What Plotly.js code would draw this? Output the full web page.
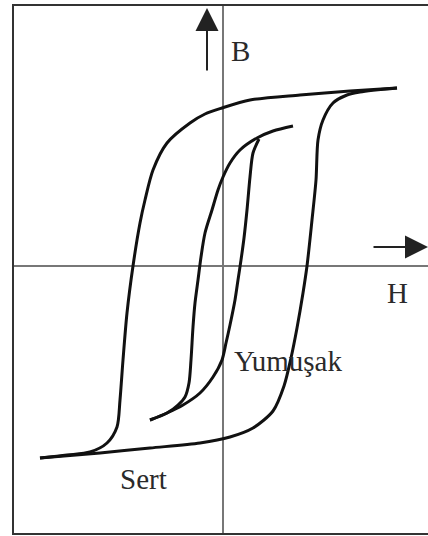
<!DOCTYPE html>
<html>
<head>
<meta charset="utf-8">
<script src="https://cdn.plot.ly/plotly-3.0.1.min.js"></script>
<style>html,body{margin:0;padding:0;background:#fff;}#chart{width:428px;height:536px;}</style>
</head>
<body>
<div id="chart"></div>
<script>
// Hard (Sert) loop - descending branch (H, B)
const hardDownH = [174, 127, 77, 27, -1, -18, -33, -56, -70, -78, -83, -90, -96, -100, -103, -106, -116, -133, -156, -183];
const hardDownB = [178, 175, 171, 166, 158, 152, 143, 123, 96, 66, 43, 0, -47, -94, -134, -161, -177, -186, -189, -192];
// Hard (Sert) loop - ascending branch
const hardUpH = [-183, -123, -73, -23, 7, 30, 50, 61, 68, 74, 80, 84, 89, 93, 95, 100, 110, 124, 137, 174];
const hardUpB = [-192, -187, -182, -177, -171, -162, -145, -120, -92, -62, -27, 0, 46, 86, 126, 146, 163, 171, 174, 178];
// Soft (Yumuşak) loop - descending branch
const softDownH = [70, 50, 34, 17, 7, 0, -5, -11, -18, -22, -25, -28, -30, -32, -34, -38, -45, -56, -73];
const softDownB = [140, 135, 128, 116, 103, 89, 76, 56, 33, 9, -14, -37, -61, -94, -117, -131, -139, -147, -154];
// Soft (Yumuşak) loop - ascending branch
const softUpH = [-73, -56, -40, -23, -10, -1, 3, 7, 12, 15, 18, 21, 24, 27, 30, 36];
const softUpB = [-154, -147, -139, -127, -111, -94, -77, -59, -34, -14, 6, 28, 56, 89, 113, 127];

const labels = {B: "B", H: "H", soft: "Yumuşak", hard: "Sert"};

const lineStyle = {color: "#111", width: 3, shape: "spline", smoothing: 0.8};
const mk = (x, y) => ({x, y, type: "scatter", mode: "lines", line: lineStyle, hoverinfo: "skip", showlegend: false});
const data = [mk(hardDownH, hardDownB), mk(hardUpH, hardUpB), mk(softDownH, softDownB), mk(softUpH, softUpB)];

const font = {family: "Liberation Serif, Times New Roman, serif", size: 29, color: "#2a2a2a"};
const layout = {
  width: 428, height: 536,
  margin: {l: 14, r: 0, t: 6, b: 3, pad: 0},
  paper_bgcolor: "#fff", plot_bgcolor: "#fff",
  showlegend: false,
  xaxis: {range: [-209, 205], showgrid: false, showticklabels: false, ticks: "",
          zeroline: true, zerolinecolor: "#777", zerolinewidth: 2,
          showline: true, mirror: true, linecolor: "#333", linewidth: 2, fixedrange: true},
  yaxis: {range: [-267, 260], showgrid: false, showticklabels: false, ticks: "",
          zeroline: true, zerolinecolor: "#777", zerolinewidth: 2,
          showline: true, mirror: false, linecolor: "#333", linewidth: 2, fixedrange: true},
  annotations: [
    {x: -16, y: 258, ax: -16, ay: 194, axref: "x", ayref: "y", xref: "x", yref: "y", text: "",
     showarrow: true, arrowhead: 2, arrowsize: 2.3, arrowwidth: 2, arrowcolor: "#222"},
    {x: 205, y: 19, ax: 149, ay: 19, axref: "x", ayref: "y", xref: "x", yref: "y", text: "",
     showarrow: true, arrowhead: 2, arrowsize: 2.3, arrowwidth: 2, arrowcolor: "#222"},
    {x: 17, y: 215, xref: "x", yref: "y", text: labels.B, showarrow: false, font},
    {x: 174, y: -27, xref: "x", yref: "y", text: labels.H, showarrow: false, font},
    {x: 64.5, y: -95, xref: "x", yref: "y", text: labels.soft, showarrow: false, font},
    {x: -80, y: -213, xref: "x", yref: "y", text: labels.hard, showarrow: false, font}
  ]
};
Plotly.newPlot("chart", data, layout, {displayModeBar: false, staticPlot: true});
</script>
</body>
</html>
